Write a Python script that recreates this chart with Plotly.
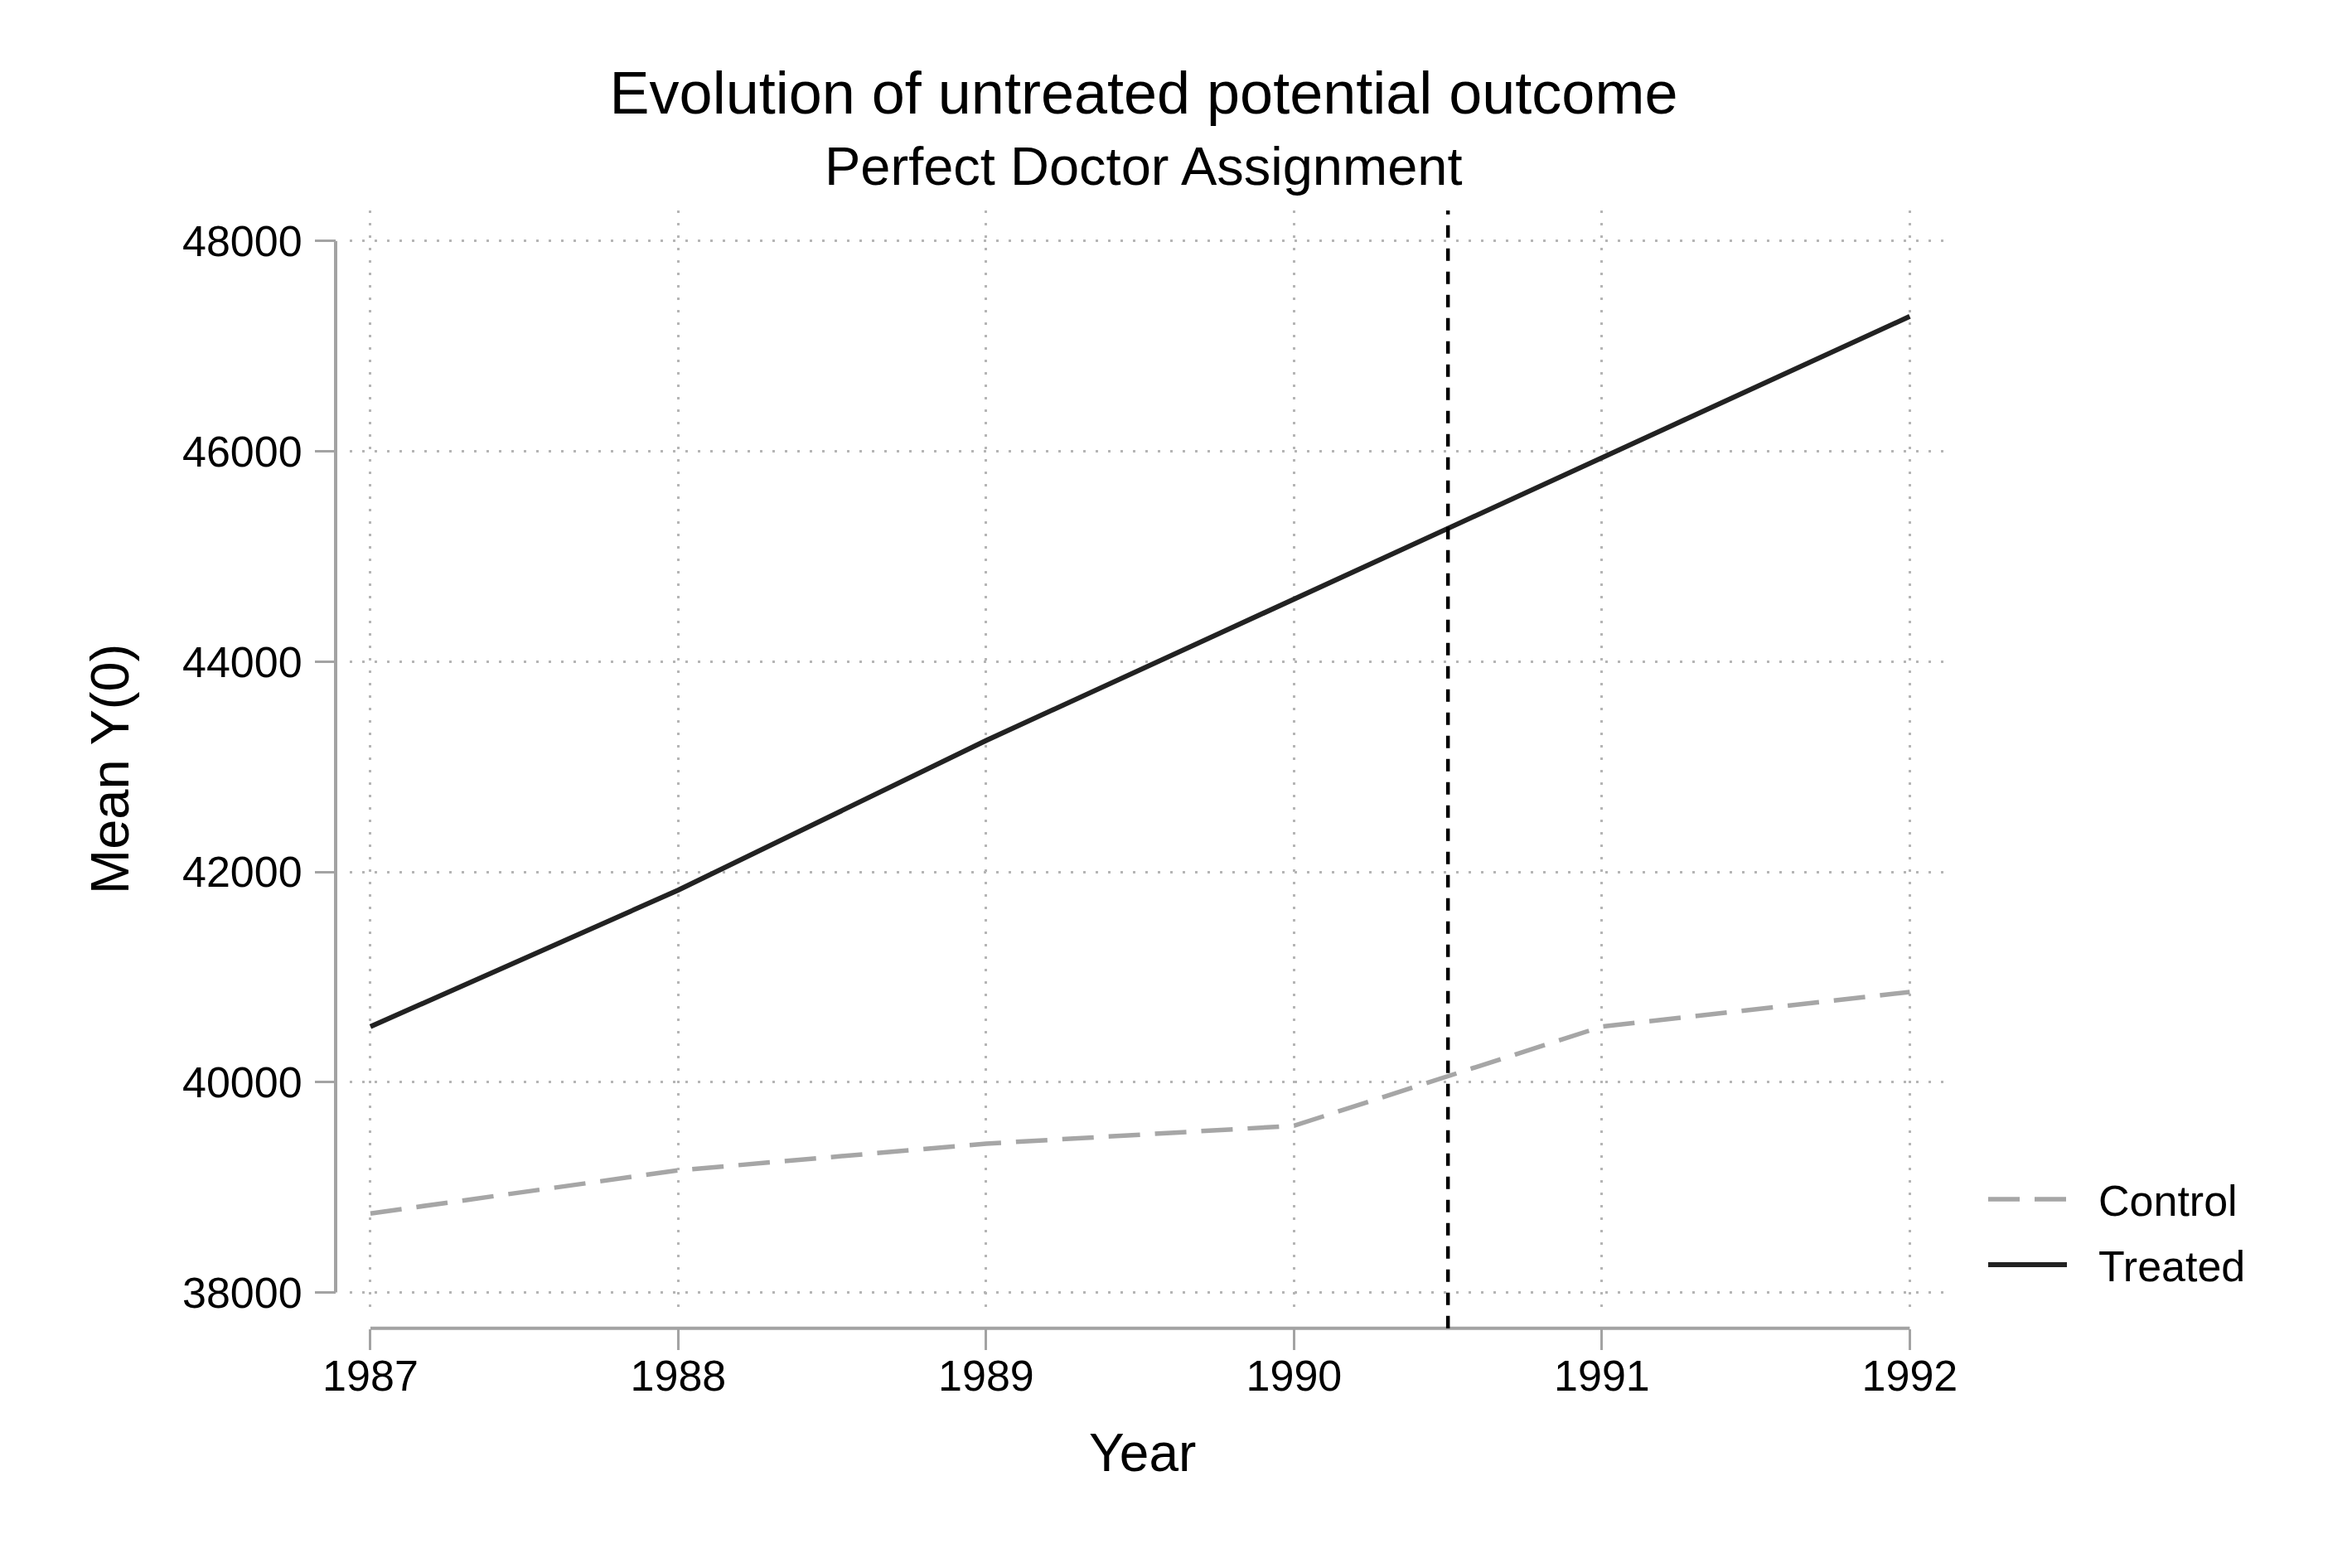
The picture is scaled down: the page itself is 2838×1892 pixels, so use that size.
import plotly.graph_objects as go

# data
years = [1987, 1988, 1989, 1990, 1991, 1992]
treated_y0 = [40529, 41827, 43250, 44596, 45943, 47283]
control_y0 = [38752, 39162, 39416, 39586, 40529, 40858]
y_ticks = [38000, 40000, 42000, 44000, 46000, 48000]
treatment_start = 1990.5

# the page body has an 8px margin, so the figure is a bit smaller than the window
PAGE_PAD = 8
W, H = 2838 - 2 * PAGE_PAD, 1892 - 2 * PAGE_PAD
FONT = "Liberation Sans, Arial, Helvetica, sans-serif"
AXIS_GREY = "#a3a3a3"
GRID_GREY = "#b5b5b5"


def fx(px):
    # window pixel -> paper x
    return (px - PAGE_PAD) / W


def fy(px):
    # window pixel (from top) -> paper y
    return 1 - (px - PAGE_PAD) / H


series = [
    ("Control", control_y0, dict(color="#a6a6a6", width=5.5, dash="38px,18px")),
    ("Treated", treated_y0, dict(color="#222222", width=6)),
]

fig = go.Figure()
for name, values, line in series:
    fig.add_trace(go.Scatter(x=years, y=values, name=name, mode="lines", line=line))

axis_common = dict(
    anchor="free",
    showline=False,
    zeroline=False,
    showgrid=True,
    gridcolor=GRID_GREY,
    gridwidth=2.5,
    griddash="3px,12px",
    ticks="outside",
    ticklen=25,
    tickwidth=3,
    tickcolor=AXIS_GREY,
    tickformat="d",
    tickfont=dict(family=FONT, size=52, color="black"),
    automargin=False,
)

fig.update_layout(
    width=W,
    height=H,
    margin=dict(l=0, r=0, t=0, b=0),
    paper_bgcolor="white",
    plot_bgcolor="white",
    showlegend=False,
    font=dict(family=FONT, color="black"),
    title=dict(
        text="Evolution of untreated potential outcome",
        font=dict(family=FONT, size=72, color="black"),
        x=fx(1380), y=fy(112), xanchor="center", yanchor="middle",
    ),
    xaxis=dict(
        axis_common,
        domain=[fx(421.7), fx(2346)],
        range=[1986.932, 1992.112],
        tickvals=years,
        position=fy(1602.7),
        ticklabelstandoff=-13,
    ),
    yaxis=dict(
        axis_common,
        domain=[fy(1586), fy(254)],
        range=[37792, 48290],
        tickvals=y_ticks,
        position=fx(405),
        ticklabelstandoff=5,
    ),
)

# stata-style axis lines that only run over the tick range
fig.add_shape(type="line", xref="x", yref="paper",
              x0=min(years), x1=max(years), y0=fy(1602.7), y1=fy(1602.7),
              line=dict(color=AXIS_GREY, width=4))
fig.add_shape(type="line", xref="paper", yref="y",
              x0=fx(405), x1=fx(405), y0=min(y_ticks), y1=max(y_ticks),
              line=dict(color=AXIS_GREY, width=4))

# treatment start
fig.add_shape(type="line", xref="x", yref="paper",
              x0=treatment_start, x1=treatment_start, y0=fy(1602.7), y1=fy(254),
              line=dict(color="black", width=4.5, dash="15px,13px"))

# subtitle and axis titles
fig.add_annotation(text="Perfect Doctor Assignment", xref="paper", yref="paper",
                   x=fx(1380), y=fy(200), xanchor="center", yanchor="middle",
                   showarrow=False, font=dict(family=FONT, size=65, color="black"))
fig.add_annotation(text="Year", xref="paper", yref="paper",
                   x=fx(1378), y=fy(1753), xanchor="center", yanchor="middle",
                   showarrow=False, font=dict(family=FONT, size=64, color="black"))
fig.add_annotation(text="Mean Y(0)", xref="paper", yref="paper", textangle=-90,
                   x=fx(133), y=fy(928), xanchor="center", yanchor="middle",
                   showarrow=False, font=dict(family=FONT, size=65, color="black"))

# legend drawn by hand so the line samples are as long as in stata
legend_rows = [1447, 1526]
for (name, _, line), row in zip(series, legend_rows):
    fig.add_shape(type="line", xref="paper", yref="paper",
                  x0=fx(2399), x1=fx(2494), y0=fy(row), y1=fy(row), line=line)
    fig.add_annotation(text=name, xref="paper", yref="paper",
                       x=fx(2530), y=fy(row + 2), xanchor="left", yanchor="middle",
                       showarrow=False, font=dict(family=FONT, size=52, color="black"))

fig.write_html("out.html")
